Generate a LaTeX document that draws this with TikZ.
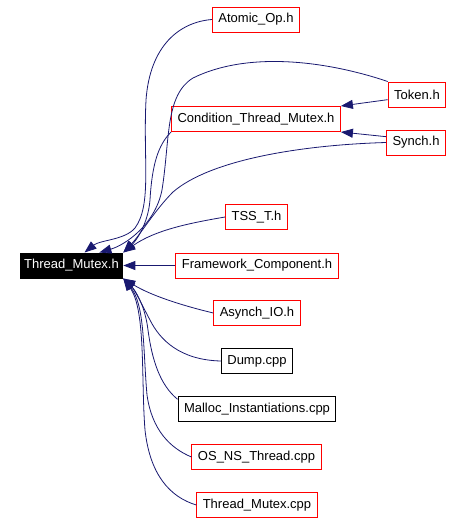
\documentclass[tikz,border=0pt]{standalone}
\usepackage{fontspec}
\setmainfont{Liberation Sans}
\usetikzlibrary{arrows.meta,positioning,calc}
\definecolor{edgeblue}{RGB}{25,25,112}

\begin{document}
\begin{tikzpicture}[x=1pt,y=-1pt,
    file/.style={draw=red, line width=1pt, fill=white, minimum height=25pt, inner xsep=6pt, inner ysep=0pt, font=\fontsize{13}{15}\selectfont},
    plainfile/.style={file, draw=black},
    curfile/.style={file, draw=black, fill=black, text=white, inner xsep=4pt},
    dep/.style={draw=edgeblue, line width=0.8pt, -{Triangle[length=12pt,width=9pt]}}]
    \useasboundingbox (0,0) rectangle (462,523);

    % Files
    \node[curfile] (tm) at (71.5,265.5) {Thread\_Mutex.h};
    \node[file] (atomic) at (256,19.5) {Atomic\_Op.h};
    \node[file] (token) at (417,94.5) {Token.h};
    \node[file] (cond) at (256,119) {Condition\_Thread\_Mutex.h};
    \node[file] (synch) at (416,142.5) {Synch.h};
    \node[file] (tss) at (256.5,217) {TSS\_T.h};
    \node[file] (fw) at (257,265.5) {Framework\_Component.h};
    \node[file] (asynch) at (257,313) {Asynch\_IO.h};
    \node[plainfile] (dump) at (257,361) {Dump.cpp};
    \node[plainfile] (malloc) at (257,409) {Malloc\_Instantiations.cpp};
    \node[file] (osns) at (256.5,457) {OS\_NS\_Thread.cpp};
    \node[file] (tmcpp) at (257,505) {Thread\_Mutex.cpp};

    % Upper includes
    \draw[dep] (atomic.west) .. controls (180,22) and (150,45) .. (146,100) .. controls (143,160) and (152,205) .. (135,228) .. controls (125,240) and (100,240) .. (tm.45);
    \draw[dep] (token.north west) .. controls (330,62) and (250,50) .. (193,78) .. controls (165,95) and (170,140) .. (162,190) .. controls (155,225) and (125,245) .. (tm.25);
    \draw[dep] (cond.south west) .. controls (158,145) and (152,165) .. (150,200) .. controls (148,225) and (135,242) .. (tm.north east);
    \draw[dep] (synch.west) .. controls (300,145) and (210,160) .. (173,192) .. controls (155,210) and (140,235) .. (tm.north east);
    \draw[dep] (tss.west) .. controls (190,223) and (155,230) .. (tm.north east);
    \draw[dep] (token.190) -- (cond.north east);
    \draw[dep] (synch.169) -- (cond.south east);

    % Straight one
    \draw[dep] (fw.west) -- (tm.east);

    % Lower includes
    \draw[dep] (asynch.west) .. controls (180,305) and (150,295) .. (tm.south east);
    \draw[dep] (dump.west) .. controls (180,360) and (160,340) .. (150,320) .. controls (142,305) and (135,290) .. (tm.south east);
    \draw[dep] (malloc.173) .. controls (160,385) and (152,360) .. (148,330) .. controls (145,305) and (135,290) .. (tm.south east);
    \draw[dep] (osns.west) .. controls (170,448) and (152,430) .. (147,395) .. controls (143,350) and (145,305) .. (tm.south east);
    \draw[dep] (tmcpp.west) .. controls (170,497) and (150,475) .. (145,430) .. controls (141,380) and (146,310) .. (tm.south east);
\end{tikzpicture}
\end{document}
